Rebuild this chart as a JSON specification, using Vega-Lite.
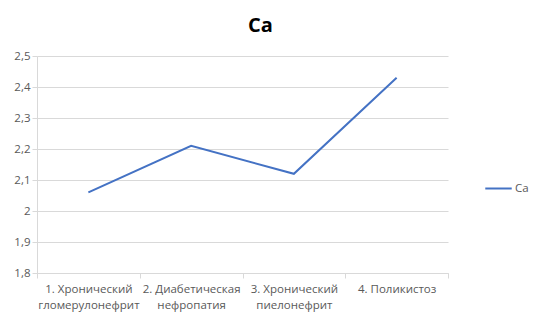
{
  "$schema": "https://vega.github.io/schema/vega-lite/v6.json",
  "autosize": {"type": "none"},
  "width": 411,
  "height": 217,
  "padding": {"left": 37, "top": 56, "right": 94, "bottom": 51},
  "background": "white",
  "title": {"text": "Ca", "font": "Open Sans", "fontSize": 20, "fontWeight": "bold", "color": "#000000", "anchor": "middle", "frame": "group", "dx": 18, "offset": 14},
  "data": {"values": [
    {"cat": "1. Хронический|гломерулонефрит", "value": 2.06, "series": "Ca"},
    {"cat": "2. Диабетическая|нефропатия", "value": 2.21, "series": "Ca"},
    {"cat": "3. Хронический|пиелонефрит", "value": 2.12, "series": "Ca"},
    {"cat": "4. Поликистоз", "value": 2.43, "series": "Ca"}
  ]},
  "mark": {"type": "line", "strokeWidth": 2},
  "encoding": {
    "x": {"field": "cat", "type": "nominal", "sort": null, "title": null,
      "scale": {"paddingInner": 0, "paddingOuter": 0},
      "axis": {"labelAngle": 0, "tickBand": "extent", "labelExpr": "split(datum.label, '|')",
        "labelFont": "Open Sans", "labelFontSize": 11.5, "labelColor": "#595959", "labelPadding": 5,
        "domainColor": "#d9d9d9", "tickColor": "#d9d9d9", "tickSize": 5, "grid": false, "labelLineHeight": 16}},
    "y": {"field": "value", "type": "quantitative", "title": null,
      "scale": {"domain": [1.8, 2.5], "nice": false, "zero": false},
      "axis": {"values": [1.8, 1.9, 2.0, 2.1, 2.2, 2.3, 2.4, 2.5],
        "labelExpr": "replace(format(datum.value, '.1~f'), '.', ',')",
        "labelFont": "Open Sans", "labelFontSize": 11.5, "labelColor": "#595959", "labelPadding": 2,
        "domainColor": "#d9d9d9", "tickColor": "#d9d9d9", "tickSize": 5, "gridColor": "#d9d9d9"}},
    "color": {"field": "series", "type": "nominal", "scale": {"range": ["#4472C4"]},
      "legend": {"title": null, "orient": "none", "legendX": 447, "legendY": 118,
        "symbolType": "stroke", "symbolSize": 700, "symbolStrokeWidth": 2, "labelFont": "Open Sans", "labelFontSize": 11.5, "labelColor": "#595959", "labelOffset": 2}}
  },
  "config": {"view": {"stroke": null}}
}
